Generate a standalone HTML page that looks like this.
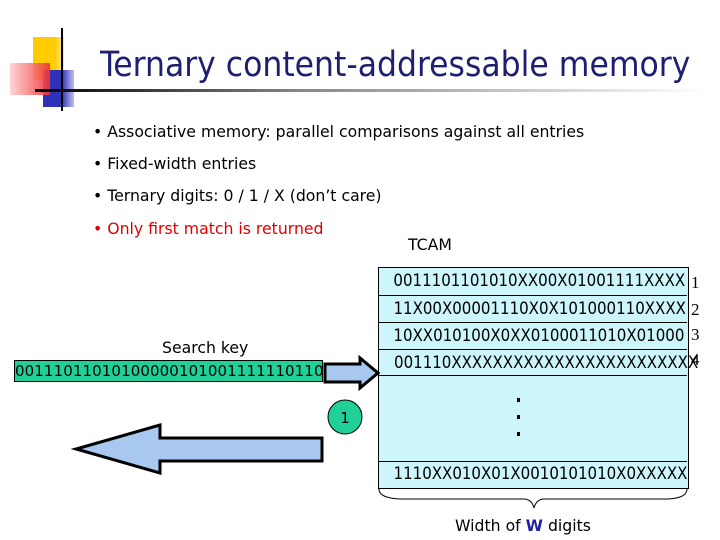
<!DOCTYPE html>
<html><head><style>
body{margin:0;background:#fff;}
.p{position:relative;width:720px;height:540px;overflow:hidden;background:#fff;font-family:"DejaVu Sans","Liberation Sans",sans-serif;}
.a{position:absolute;white-space:nowrap;}
.b{font-size:15.7px;color:#000;}
.row{position:absolute;left:379px;width:308px;background:#ccf6fb;border-bottom:1px solid #000;font-family:"DejaVu Sans",sans-serif;font-size:16.5px;line-height:26px;text-align:center;}
.row span{display:inline-block;transform:scaleX(0.91);transform-origin:center;}
.n{position:absolute;left:691px;font-family:"Liberation Serif",serif;font-size:17px;}
</style></head><body><div class="p">
<div class="a" style="left:33px;top:37px;width:31px;height:43px;background:linear-gradient(90deg,#ffcc00 70%,#ffe9a0)"></div>
<div class="a" style="left:43px;top:70px;width:31px;height:37px;background:linear-gradient(90deg,#2f32b8 60%,#c0c0f0)"></div>
<div class="a" style="left:10px;top:63px;width:40px;height:32px;background:linear-gradient(90deg,#ffd0d0,#f03030);opacity:.9"></div>
<div class="a" style="left:61px;top:28px;width:2px;height:83px;background:#000"></div>
<div class="a" style="left:35px;top:89px;width:670px;height:3px;background:linear-gradient(90deg,#000,#888 40%,#fff)"></div>
<div class="a" style="left:100px;top:45px;font-size:35px;color:#1e1f70;font-family:'DejaVu Sans Condensed','DejaVu Sans',sans-serif;">Ternary content-addressable memory</div>
<div class="a b" style="left:93px;top:122px">• Associative memory: parallel comparisons against all entries</div>
<div class="a b" style="left:93px;top:154px">• Fixed-width entries</div>
<div class="a b" style="left:93px;top:186px">• Ternary digits: 0 / 1 / X (don’t care)</div>
<div class="a b" style="left:93px;top:219px;color:#e00000">• Only first match is returned</div>
<div class="a b" style="left:408px;top:235px">TCAM</div>
<div class="a" style="left:378px;top:267px;width:309px;height:220px;border:1px solid #000;background:#ccf6fb"></div>
<div class="row" style="top:268px;height:27px"><span>0011101101010XX00X01001111XXXX</span></div>
<div class="row" style="top:296px;height:26px"><span>11X00X00001110X0X101000110XXXX</span></div>
<div class="row" style="top:323px;height:26px"><span>10XX010100X0XX0100011010X01000</span></div>
<div class="row" style="top:350px;height:25px"><span>001110XXXXXXXXXXXXXXXXXXXXXXXX</span></div>
<div class="row" style="top:461px;height:26px;border-bottom:none"><span>1110XX010X01X0010101010X0XXXXX</span></div>
<div class="a" style="left:379px;top:461px;width:308px;height:1px;background:#000"></div>
<div class="n" style="top:273px">1</div><div class="n" style="top:300px">2</div><div class="n" style="top:325px">3</div><div class="n" style="top:350px">4</div>
<div class="a" style="left:517px;top:398px;width:3px;height:4px;background:#000"></div>
<div class="a" style="left:517px;top:415px;width:3px;height:4px;background:#000"></div>
<div class="a" style="left:517px;top:432px;width:3px;height:4px;background:#000"></div>
<svg class="a" style="left:0;top:0" width="720" height="540">
<path d="M379 489 Q379 498 400 499 L525 499 Q532 500 534 508 Q536 500 543 499 L668 499 Q687 498 687 489" fill="none" stroke="#000" stroke-width="1"/>
<polygon points="325,364 360,364 360,358 378,373 360,388 360,382 325,382" fill="#a8c8f0" stroke="#000" stroke-width="3"/>
<polygon points="322,438 322,461 160,461 160,473 76,449 160,425 160,438" fill="#a8c8f0" stroke="#000" stroke-width="3"/>
<ellipse cx="345" cy="417" rx="17" ry="17" fill="#20d098" stroke="#000"/>
<text x="345" y="423" font-size="15" text-anchor="middle" font-family="DejaVu Sans">1</text>
</svg>
<div class="a b" style="left:162px;top:338px">Search key</div>
<div class="a" style="left:14px;top:360px;width:307px;height:20px;background:#20d098;border:1px solid #000;font-family:'DejaVu Sans',sans-serif;font-size:15px;line-height:20px;letter-spacing:0.1px;overflow:hidden">00111011010100000101001111110110</div>
<div class="a b" style="left:455px;top:516px">Width of <b style="color:#2020a0">W</b> digits</div>
</div></body></html>
